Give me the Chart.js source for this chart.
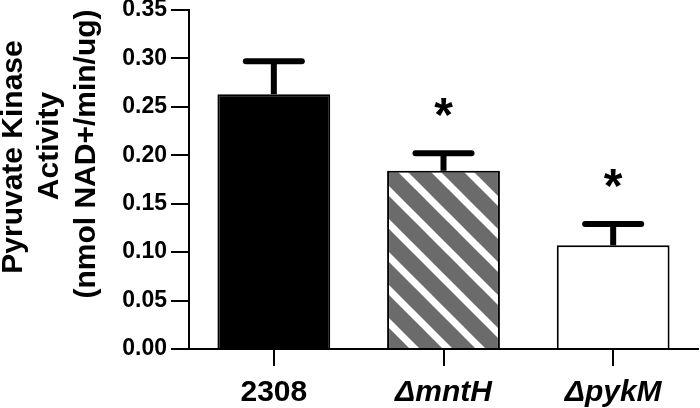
<!DOCTYPE html>
<html>
<head>
<meta charset="utf-8">
<script src="https://cdn.jsdelivr.net/npm/chart.js@4.4.1/dist/chart.umd.min.js"></script>
<style>
  html, body { margin:0; padding:0; background:#fff; }
</style>
</head>
<body>
<canvas id="chart" width="700" height="408"></canvas>
<script>
// Pyruvate kinase activity per strain (mean + SEM, upper bar only)
const categories = ['2308', '\u0394mntH', '\u0394pykM'];
const activity = [0.263, 0.184, 0.107];
const sem = [0.034, 0.018, 0.022];
const significant = [false, true, true];
const titleLines = ['Pyruvate Kinase', 'Activity', '(nmol NAD+/min/ug)'];
const yMin = 0, yMax = 0.35, yStep = 0.05;

const FONT = '"Liberation Sans", Arial, Helvetica, sans-serif';
const ctx = document.getElementById('chart').getContext('2d');

// grey fill with white diagonal stripes for the middle bar
function hatch(){
  const s = 33;
  const c = document.createElement('canvas'); c.width = s; c.height = s;
  const x = c.getContext('2d');
  x.fillStyle = '#6b6b6b'; x.fillRect(0, 0, s, s);
  x.strokeStyle = '#fff'; x.lineWidth = 7;
  for (let k = -1; k <= 1; k++) {
    x.beginPath(); x.moveTo(k*s - s, -s); x.lineTo(k*s + 2*s, 2*s); x.stroke();
  }
  return ctx.createPattern(c, 'repeat');
}

const errorBars = {
  id: 'errorBars',
  afterDatasetsDraw(chart){
    const c = chart.ctx, y = chart.scales.y;
    const meta = chart.getDatasetMeta(0);
    c.save();
    c.strokeStyle = '#000'; c.fillStyle = '#000';
    meta.data.forEach((bar, i) => {
      const base = y.getPixelForValue(activity[i]);
      const top = y.getPixelForValue(activity[i] + sem[i]);
      c.lineCap = 'butt'; c.lineWidth = 6;
      c.beginPath(); c.moveTo(bar.x, base); c.lineTo(bar.x, top); c.stroke();
      c.lineCap = 'round'; c.lineWidth = 6;
      c.beginPath(); c.moveTo(bar.x - 28, top); c.lineTo(bar.x + 28, top); c.stroke();
      if (significant[i]) {
        c.font = 'bold 48px ' + FONT;
        c.textAlign = 'center'; c.textBaseline = 'alphabetic';
        const m = c.measureText('*');
        const cy = top - 46;
        c.fillText('*', bar.x, cy + (m.actualBoundingBoxAscent - m.actualBoundingBoxDescent) / 2);
      }
    });
    c.restore();
  }
};

const yTitle = {
  id: 'yTitle',
  afterDraw(chart){
    const c = chart.ctx;
    const baseX = [22, 58, 95], midY = [157, 146, 154];
    c.save();
    c.font = 'bold 30px ' + FONT;
    c.fillStyle = '#000'; c.textAlign = 'center'; c.textBaseline = 'alphabetic';
    titleLines.forEach((t, i) => {
      c.save(); c.translate(baseX[i], midY[i]); c.rotate(-Math.PI/2); c.fillText(t, 0, 0); c.restore();
    });
    c.restore();
  }
};

new Chart(ctx, {
  type: 'bar',
  data: {
    labels: categories,
    datasets: [{
      data: activity,
      backgroundColor: ['#000000', hatch(), '#ffffff'],
      borderColor: '#000',
      borderWidth: 2,
      categoryPercentage: 1,
      barPercentage: 0.665
    }]
  },
  options: {
    responsive: false,
    animation: false,
    layout: { padding: { top: 0, right: 2, bottom: 0, left: 0 } },
    plugins: { legend: { display: false }, tooltip: { enabled: false } },
    scales: {
      y: {
        min: yMin, max: yMax,
        ticks: {
          stepSize: yStep, color: '#000', padding: 4,
          font: { family: FONT, size: 23, weight: 'bold' },
          callback: v => Number(v).toFixed(2)
        },
        grid: { drawOnChartArea: false, tickLength: 18, color: '#000', lineWidth: 2 },
        border: { color: '#000', width: 2 },
        afterFit: s => { s.width = 189; s.paddingTop = 10; s.paddingBottom = 0; }
      },
      x: {
        ticks: {
          color: '#000', padding: 9, maxRotation: 0, autoSkip: false,
          font: c => ({ family: FONT, size: 30, weight: 'bold', style: c.index === 0 ? 'normal' : 'italic' })
        },
        grid: { drawOnChartArea: false, offset: false, tickLength: 17, color: '#000', lineWidth: 2 },
        border: { color: '#000', width: 2 },
        afterFit: s => { s.height = 59; }
      }
    }
  },
  plugins: [errorBars, yTitle]
});
</script>
</body>
</html>
